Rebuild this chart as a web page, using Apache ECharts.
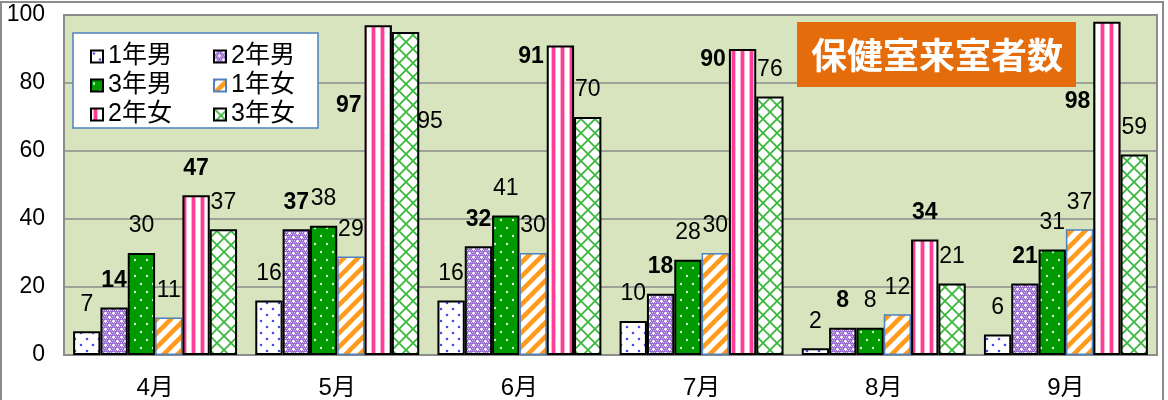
<!DOCTYPE html>
<html>
<head>
<meta charset="utf-8">
<script src="https://cdn.jsdelivr.net/npm/echarts@6/dist/echarts.min.js"></script>
<style>
html,body{margin:0;padding:0;background:#fff;}
#chart{width:1168px;height:400px;}
</style>
</head>
<body>
<div id="chart"></div>
<script>
const months = ['4月', '5月', '6月', '7月', '8月', '9月'];
const seriesNames = ['1年男', '2年男', '3年男', '1年女', '2年女', '3年女'];
const boys1 = [7, 16, 16, 10, 2, 6];
const boys2 = [14, 37, 32, 18, 8, 21];
const boys3 = [30, 38, 41, 28, 8, 31];
const girls1 = [11, 29, 30, 30, 12, 37];
const girls2 = [47, 97, 91, 90, 34, 98];
const girls3 = [37, 95, 70, 76, 21, 59];
const yMin = 0, yMax = 100, yStep = 20;
const titleText = '保健室来室者数';

function tile(w, h, draw) {
  const c = document.createElement('canvas');
  c.width = w; c.height = h;
  const g = c.getContext('2d');
  draw(g, w, h);
  return { image: c, repeat: 'repeat' };
}
function dot(g, x, y, r, col) { g.fillStyle = col; g.beginPath(); g.arc(x, y, r, 0, Math.PI * 2); g.fill(); }

const patDotsBlue = tile(12, 12, (g, w, h) => {
  g.fillStyle = '#fff'; g.fillRect(0, 0, w, h);
  dot(g, 3, 3, 1.3, '#4b4be6'); dot(g, 9, 9, 1.3, '#4b4be6');
});
const patPurple = tile(8, 8, (g, w, h) => {
  g.fillStyle = '#9a6ed0'; g.fillRect(0, 0, w, h);
  g.fillStyle = '#d8c6f2';
  for (let y = 0; y < h; y += 2) for (let x = (y / 2) % 2; x < w; x += 2) g.fillRect(x, y, 1, 1);
  g.fillStyle = '#ffffff';
  g.fillRect(1, 0, 1, 3); g.fillRect(0, 1, 3, 1);
  g.fillRect(5, 4, 1, 3); g.fillRect(4, 5, 3, 1);
});
const patGreen = tile(12, 16, (g, w, h) => {
  g.fillStyle = '#009a00'; g.fillRect(0, 0, w, h);
  dot(g, 3, 4, 1.2, '#d6f5d6'); dot(g, 9, 12, 1.2, '#d6f5d6');
});
const patOrange = tile(14, 14, (g, w, h) => {
  g.fillStyle = '#fff'; g.fillRect(0, 0, w, h);
  g.strokeStyle = '#ff9a1a'; g.lineWidth = 4.5;
  g.beginPath();
  g.moveTo(-2, h + 2); g.lineTo(w + 2, -2);
  g.moveTo(-2, 2); g.lineTo(2, -2);
  g.moveTo(w - 2, h + 2); g.lineTo(w + 2, h - 2);
  g.stroke();
});
const patPink = tile(9, 8, (g, w, h) => {
  g.fillStyle = '#fff'; g.fillRect(0, 0, w, h);
  g.fillStyle = '#ffb3d4'; g.fillRect(2, 0, 1, h); g.fillRect(6, 0, 1, h);
  g.fillStyle = '#ff3c98'; g.fillRect(3, 0, 3, h);
});
const patLattice = tile(14, 14, (g, w, h) => {
  g.fillStyle = '#fff'; g.fillRect(0, 0, w, h);
  g.strokeStyle = '#3cb83c'; g.lineWidth = 1.8;
  g.beginPath();
  g.moveTo(0, 0); g.lineTo(w, h);
  g.moveTo(w, 0); g.lineTo(0, h);
  g.stroke();
});

const values = [boys1, boys2, boys3, girls1, girls2, girls3];
const fills = [patDotsBlue, patPurple, patGreen, patOrange, patPink, patLattice];
const borders = ['#000', '#000', '#000', '#4f81bd', '#000', '#000'];
const borderW = [2, 2, 2, 1.5, 2, 2];
const bolds = [false, true, false, false, true, false];

const fontNum = "'Liberation Sans', Arial, sans-serif";
const fontMix = "'Liberation Sans', 'Noto Sans CJK JP', sans-serif";

function buildData(si) {
  return values[si].map(v => {
    if (si === 4 && v >= 90) {
      return { value: v, label: { position: [-3, v >= 95 ? 80 : 11], align: 'right', verticalAlign: 'middle' } };
    }
    if (si === 5 && v >= 90) {
      return { value: v, label: { position: ['100%', 90], align: 'left', verticalAlign: 'middle', offset: [-2, 0] } };
    }
    return v;
  });
}

const series = seriesNames.map((name, si) => ({
  name,
  type: 'bar',
  barGap: '0%',
  barCategoryGap: '10%',
  data: buildData(si),
  itemStyle: { color: fills[si], borderColor: borders[si], borderWidth: borderW[si] },
  emphasis: { disabled: true },
  label: {
    show: true,
    position: 'top',
    distance: 16,
    color: '#000',
    fontSize: 23,
    lineHeight: 22,
    fontFamily: fontNum,
    fontWeight: bolds[si] ? 'bold' : 'normal'
  },
  z: 5
}));

const chart = echarts.init(document.getElementById('chart'), null, { renderer: 'canvas' });
chart.setOption({
  animation: false,
  backgroundColor: '#fff',
  grid: {
    left: 64, right: 11, top: 15, bottom: 44,
    show: true, backgroundColor: '#d7e4bd', borderColor: '#8c8c8c', borderWidth: 2
  },
  xAxis: {
    type: 'category',
    data: months,
    axisLine: { show: true, lineStyle: { color: '#8c8c8c', width: 2 } },
    axisTick: { show: false },
    axisLabel: { color: '#000', fontSize: 24, fontFamily: fontMix, margin: 21 }
  },
  yAxis: {
    type: 'value',
    min: yMin, max: yMax, interval: yStep,
    axisLine: { show: false },
    axisTick: { show: false },
    splitLine: { lineStyle: { color: '#8c8c8c', width: 1.5 } },
    axisLabel: { color: '#000', fontSize: 23, fontFamily: fontNum, margin: 19 }
  },
  legend: {
    left: 90, top: 44,
    width: 262,
    padding: 0,
    itemWidth: 12, itemHeight: 12, itemGap: 4,
    icon: 'rect',
    selectedMode: false,
    z: 20,
    textStyle: { color: '#000', fontSize: 25, lineHeight: 22, width: 101, fontFamily: fontMix },
    data: seriesNames
  },
  graphic: [
    { type: 'rect', z: 0, silent: true, shape: { x: 1, y: 2, width: 1162, height: 420 },
      style: { fill: null, stroke: '#8c8c8c', lineWidth: 2 } },
    { type: 'rect', z: 15, silent: true, shape: { x: 73, y: 33, width: 245, height: 95 },
      style: { fill: '#fff', stroke: '#4f81bd', lineWidth: 1.5 } },
    { type: 'rect', z: 15, silent: true, shape: { x: 797, y: 22, width: 279, height: 65 },
      style: { fill: '#e46c0a' } },
    { type: 'text', z: 16, silent: true, x: 937, y: 55,
      style: { text: titleText, fill: '#fff', font: "bold 36px 'Noto Sans CJK JP', sans-serif", textAlign: 'center', textVerticalAlign: 'middle' } }
  ],
  series
});
</script>
</body>
</html>
